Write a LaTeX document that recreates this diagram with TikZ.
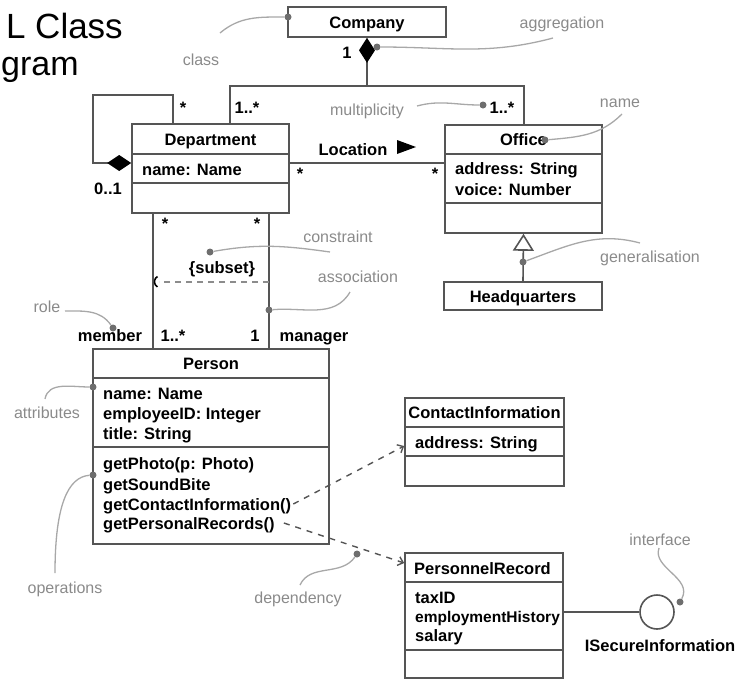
\documentclass[tikz,border=0pt]{standalone}
\usepackage{fontspec}
\setmainfont{Liberation Sans}
\usetikzlibrary{arrows.meta}
\definecolor{linec}{HTML}{555555}
\definecolor{ptrc}{HTML}{A8A8A8}
\definecolor{dotc}{HTML}{6E6E6E}
\definecolor{notec}{HTML}{8A8A8A}
\definecolor{dashc}{HTML}{8C8C8C}
\tikzset{
  umlbox/.style={draw=linec, line width=1.6pt, inner sep=0pt},
  lbl/.style={font=\fontsize{16.5}{20}\selectfont\bfseries, inner sep=0pt, text height=12pt, text depth=0pt},
  note/.style={font=\fontsize{16}{19}\selectfont, text=notec, inner sep=0pt, text height=11pt, text depth=0pt},
  conn/.style={draw=linec, line width=1.6pt},
  ptr/.style={draw=ptrc, line width=1.3pt},
  pdot/.style={circle, fill=dotc, inner sep=0pt, minimum size=7pt},
  dep/.style={draw=linec, line width=1.4pt, dash pattern=on 6pt off 6pt},
  title/.style={font=\fontsize{34}{40}\selectfont, inner sep=0pt}
}
\begin{document}
\begin{tikzpicture}[x=1pt,y=-1pt]
\useasboundingbox (0,0) rectangle (737,681);

% title
\node[title, anchor=base east, font=\fontsize{35}{40}\selectfont] (t1) at (123,38) {L Class};
\node[title, anchor=base west] (t2) at (1,75) {gram};

% boxes
\node[umlbox, minimum width=158pt, minimum height=30pt] (company) at (367,22) {};
\node[umlbox, minimum width=157pt, minimum height=89pt] (dept) at (210.5,168.5) {};
\node[umlbox, minimum width=157pt, minimum height=108pt] (office) at (523.5,179) {};
\node[umlbox, minimum width=158pt, minimum height=28pt] (hq) at (523,296) {};
\node[umlbox, minimum width=236pt, minimum height=195pt] (person) at (211,446.5) {};
\node[umlbox, minimum width=159pt, minimum height=88pt] (contact) at (484.5,442) {};
\node[umlbox, minimum width=158pt, minimum height=125pt] (precord) at (484,615.5) {};

% dividers
\draw[conn] (dept.west |- 0,154) -- (dept.east |- 0,154);
\draw[conn] (dept.west |- 0,183) -- (dept.east |- 0,183);
\draw[conn] (office.west |- 0,154) -- (office.east |- 0,154);
\draw[conn] (office.west |- 0,203) -- (office.east |- 0,203);
\draw[conn] (person.west |- 0,378) -- (person.east |- 0,378);
\draw[conn] (person.west |- 0,447) -- (person.east |- 0,447);
\draw[conn] (contact.west |- 0,427) -- (contact.east |- 0,427);
\draw[conn] (contact.west |- 0,456) -- (contact.east |- 0,456);
\draw[conn] (precord.west |- 0,582) -- (precord.east |- 0,582);
\draw[conn] (precord.west |- 0,650) -- (precord.east |- 0,650);

% box texts
\node[lbl] (companyT) at (367,22) {Company};
\node[lbl] (deptT) at (210.5,139) {Department};
\node[lbl, anchor=west] (deptA) at (142,169) {name: Name};
\node[lbl] (officeT) at (523.5,139) {Office};
\node[lbl, anchor=west] (offA1) at (455,168) {address: String};
\node[lbl, anchor=west] (offA2) at (455,189) {voice: Number};
\node[lbl] (hqT) at (523,296) {Headquarters};
\node[lbl] (personT) at (211,363) {Person};
\node[lbl, anchor=west] (pa1) at (103,393) {name: Name};
\node[lbl, anchor=west] (pa2) at (103,413) {employeeID: Integer};
\node[lbl, anchor=west] (pa3) at (103,433) {title: String};
\node[lbl, anchor=west] (op1) at (103,463) {getPhoto(p: Photo)};
\node[lbl, anchor=west] (op2) at (103,484) {getSoundBite};
\node[lbl, anchor=west] (opC) at (103,504) {getContactInformation()};
\node[lbl, anchor=west] (opR) at (103,523) {getPersonalRecords()};
\node[lbl] (contactT) at (484.5,412) {ContactInformation};
\node[lbl, anchor=west] (ciA) at (415,442) {address: String};
\node[lbl, anchor=west] (prT) at (414,568) {PersonnelRecord};
\node[lbl, anchor=west] (pr1) at (415,597) {taxID};
\node[lbl, anchor=west, font=\fontsize{15.5}{19}\selectfont\bfseries] (pr2) at (415,616) {employmentHistory};
\node[lbl, anchor=west] (pr3) at (415,635) {salary};

% company aggregation
\coordinate (cl) at (230,86);
\coordinate (cr) at (524,86);
\draw[conn, {Diamond[length=25pt,width=16pt,color=black,fill=black]}-] (company.south) -- (company.south |- cl);
\draw[conn] (dept.north -| cl) -- (cl) -- (cr) -- (office.north -| cr);

% department self-association
\coordinate (la) at (173,95);
\coordinate (lb) at (93,163);
\draw[conn, -{Diamond[length=24pt,width=16pt,color=black,fill=black]}] (dept.north -| la) -- (la) -| (lb) -- (dept.west |- lb);

% Location
\draw[conn] (dept.east |- 0,163) -- (office.west |- 0,163);
\fill[black] (397,140) -- (416,147) -- (397,154) -- cycle;

% generalisation
\draw[conn, -{Triangle[open,length=17pt,width=21pt]}] (hq.north) -- (office.south);

% department - person
\draw[conn] (dept.south -| 153,0) -- (person.north -| 153,0);
\draw[conn] (dept.south -| 269,0) -- (person.north -| 269,0);
\draw[draw=dashc, line width=2.4pt, dash pattern=on 6pt off 5pt] (269,282) -- (159,282);
\draw[black, line width=1.6pt] (157.5,276.5) arc[start angle=120, end angle=240, radius=6pt];

% dependencies
\draw[dep, -{Straight Barb[length=5pt,width=9pt]}] ([xshift=2pt]opC.east) -- (contact.west |- 0,446);
\draw[dep, -{Straight Barb[length=5pt,width=9pt]}] ([xshift=9pt]opR.east) -- (precord.west |- 0,563);

% interface
\node[circle, draw=linec, line width=1.6pt, minimum size=34pt, inner sep=0pt] (iface) at (657,612) {};
\draw[conn] (precord.east |- iface) -- (iface.west);
\node[lbl] (ifaceT) at (660,645) {ISecureInformation};

% multiplicities and labels
\node[lbl] (m1) at (347,52) {1};
\node[lbl] (m2) at (183,107) {*};
\node[lbl] (m3) at (247,107) {1..*};
\node[lbl] (m4) at (502,107) {1..*};
\node[lbl] (m5) at (108,188) {0..1};
\node[lbl] (locT) at (353,149) {Location};
\node[lbl] (m6) at (300,173) {*};
\node[lbl] (m7) at (435,173) {*};
\node[lbl] (m8) at (165,223) {*};
\node[lbl] (m9) at (257,223) {*};
\node[lbl] (subset) at (222,267) {\{subset\}};
\node[lbl] (member) at (110,335) {member};
\node[lbl] (m10) at (173,335) {1..*};
\node[lbl] (m11) at (255,335) {1};
\node[lbl] (manager) at (314,335) {manager};

% notes
\node[note] (nClass) at (201,60) {class};
\node[note] (nAgg) at (562,23) {aggregation};
\node[note] (nMult) at (367,110) {multiplicity};
\node[note] (nName) at (620,102) {name};
\node[note] (nCons) at (338,237) {constraint};
\node[note] (nAssoc) at (358,277) {association};
\node[note] (nGen) at (650,257) {generalisation};
\node[note] (nRole) at (47,307) {role};
\node[note] (nAttr) at (47,413) {attributes};
\node[note] (nOps) at (65,588) {operations};
\node[note] (nDep) at (298,598) {dependency};
\node[note] (nIf) at (660,540) {interface};

% pointer dots
\node[pdot] (dClass) at (288,17) {};
\node[pdot] (dAgg) at (377,47) {};
\node[pdot] (dMult) at (483,105) {};
\node[pdot] (dName) at (545,140) {};
\node[pdot] (dCons) at (210,252) {};
\node[pdot] (dAssoc) at (269,310) {};
\node[pdot] (dGen) at (523,262) {};
\node[pdot] (dRole) at (113,328) {};
\node[pdot] (dAttr) at (93,387) {};
\node[pdot] (dOps) at (93,475) {};
\node[pdot] (dDep) at (357,554) {};
\node[pdot] (dIf) at (680,602) {};

% pointer curves
\coordinate (pClass) at (220,33);
\coordinate (pAgg) at (553,38);
\coordinate (pMult) at (417,106);
\coordinate (pName) at (622,114);
\coordinate (pCons) at (330,252);
\coordinate (pAssoc) at (350,292);
\coordinate (pGen) at (640,243);
\coordinate (pRole) at (65,311);
\coordinate (pAttr) at (45,399);
\coordinate (pOps) at (55,573);
\coordinate (pDep) at (300,585);
\coordinate (pIf) at (659,548);
\draw[ptr] (pClass) to[out=40,in=180] (dClass);
\draw[ptr] (pAgg) to[out=195,in=0] (dAgg);
\draw[ptr] (pMult) to[out=15,in=180] (dMult);
\draw[ptr] (pName) to[out=225,in=5] (dName);
\draw[ptr] (pCons) to[out=172,in=10] (dCons);
\draw[ptr] (pAssoc) to[out=240,in=5] (dAssoc);
\draw[ptr] (pGen) to[out=165,in=20] (dGen);
\draw[ptr] (pRole) to[out=0,in=125] (dRole);
\draw[ptr] (pAttr) to[out=80,in=180] (dAttr);
\draw[ptr] (pOps) .. controls (55,505) and (68,477) .. (dOps);
\draw[ptr] (pDep) to[out=65,in=235] (dDep);
\draw[ptr] (pIf) .. controls (652,568) and (693,578) .. (dIf);
\end{tikzpicture}
\end{document}
